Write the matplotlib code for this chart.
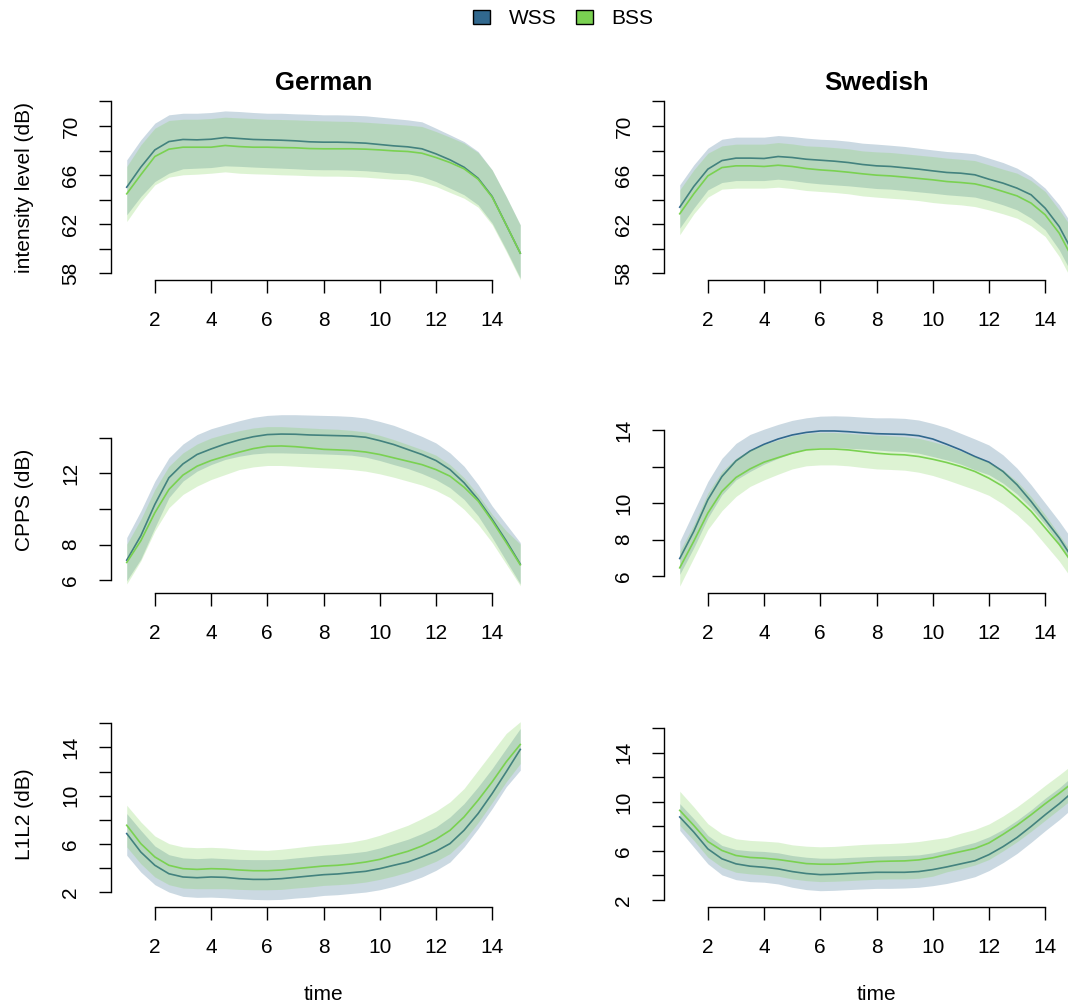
import numpy as np
import matplotlib
matplotlib.use("Agg")
import matplotlib.pyplot as plt
from matplotlib.patches import Patch

plt.rcParams['font.family'] = ['Liberation Sans', 'DejaVu Sans']

# ---------------- data ----------------
time = [1.0, 1.5, 2.0, 2.5, 3.0, 3.5, 4.0, 4.5, 5.0, 5.5, 6.0, 6.5, 7.0, 7.5, 8.0,
        8.5, 9.0, 9.5, 10.0, 10.5, 11.0, 11.5, 12.0, 12.5, 13.0, 13.5, 14.0, 14.5, 15.0]
languages = ["German", "Swedish"]
groups = ["WSS", "BSS"]
measures = ["intensity level (dB)", "CPPS (dB)", "L1L2 (dB)"]
x_ticks = [2, 4, 6, 8, 10, 12, 14]

# German - intensity
de_int_wss = [65.01, 66.64, 68.05, 68.73, 68.90, 68.87, 68.92, 69.06, 68.98, 68.90, 68.87, 68.84, 68.79, 68.71, 68.68,
              68.68, 68.65, 68.60, 68.49, 68.38, 68.30, 68.14, 67.73, 67.24, 66.64, 65.74, 64.25, 61.94, 59.63]
de_int_wss_hi = [67.24, 68.87, 70.23, 70.91, 71.04, 71.04, 71.10, 71.23, 71.18, 71.10, 71.04, 71.04, 70.99, 70.96, 70.91,
                 70.91, 70.88, 70.83, 70.72, 70.61, 70.50, 70.34, 69.82, 69.28, 68.73, 67.92, 66.42, 64.25, 61.94]
de_int_wss_lo = [62.76, 64.25, 65.47, 66.15, 66.51, 66.56, 66.61, 66.75, 66.71, 66.65, 66.60, 66.56, 66.51, 66.45, 66.43,
                 66.43, 66.40, 66.35, 66.26, 66.15, 66.10, 65.88, 65.47, 64.93, 64.39, 63.57, 62.08, 59.90, 57.59]
de_int_bss = [64.47, 66.02, 67.51, 68.11, 68.27, 68.27, 68.27, 68.41, 68.32, 68.27, 68.27, 68.24, 68.22, 68.16, 68.14,
              68.14, 68.14, 68.11, 68.05, 67.97, 67.92, 67.78, 67.43, 67.02, 66.51, 65.66, 64.20, 61.94, 59.63]
de_int_bss_hi = [66.70, 68.46, 69.82, 70.45, 70.55, 70.55, 70.61, 70.72, 70.66, 70.61, 70.55, 70.53, 70.50, 70.45, 70.42,
                 70.39, 70.37, 70.31, 70.23, 70.15, 70.07, 69.96, 69.55, 69.09, 68.60, 67.84, 66.42, 64.25, 61.94]
de_int_bss_lo = [62.21, 63.84, 65.20, 65.83, 66.02, 66.07, 66.15, 66.26, 66.15, 66.10, 66.07, 66.02, 65.99, 65.94, 65.91,
                 65.91, 65.88, 65.83, 65.74, 65.66, 65.61, 65.39, 65.07, 64.58, 64.11, 63.38, 61.94, 59.77, 57.46]

# Swedish - intensity
sv_int_wss = [63.38, 65.07, 66.48, 67.18, 67.38, 67.38, 67.35, 67.51, 67.43, 67.29, 67.21, 67.13, 67.02, 66.86, 66.75,
              66.70, 66.59, 66.48, 66.34, 66.21, 66.15, 66.02, 65.66, 65.34, 64.93, 64.39, 63.30, 61.80, 59.63]
sv_int_wss_hi = [65.20, 66.83, 68.19, 68.92, 69.09, 69.09, 69.09, 69.22, 69.14, 69.01, 68.92, 68.87, 68.76, 68.60, 68.52,
                 68.43, 68.33, 68.19, 68.05, 67.92, 67.84, 67.73, 67.38, 67.02, 66.56, 65.88, 64.93, 63.57, 61.80]
sv_int_wss_lo = [61.67, 63.30, 64.79, 65.39, 65.55, 65.55, 65.55, 65.66, 65.55, 65.39, 65.28, 65.20, 65.12, 65.01, 64.90,
                 64.85, 64.74, 64.63, 64.52, 64.39, 64.30, 64.20, 63.92, 63.57, 63.16, 62.48, 61.53, 59.90, 57.73]
sv_int_bss = [62.84, 64.47, 65.93, 66.61, 66.75, 66.75, 66.70, 66.80, 66.70, 66.53, 66.42, 66.34, 66.23, 66.10, 65.99,
              65.93, 65.83, 65.72, 65.61, 65.47, 65.39, 65.28, 65.01, 64.66, 64.30, 63.71, 62.76, 61.26, 59.09]
sv_int_bss_hi = [64.79, 66.42, 67.78, 68.38, 68.52, 68.52, 68.52, 68.65, 68.54, 68.38, 68.33, 68.24, 68.14, 67.97, 67.89,
                 67.84, 67.73, 67.62, 67.51, 67.38, 67.29, 67.18, 66.83, 66.48, 66.15, 65.55, 64.66, 63.16, 61.53]
sv_int_bss_lo = [61.13, 62.84, 64.20, 64.85, 64.93, 64.93, 64.93, 65.01, 64.90, 64.74, 64.66, 64.58, 64.47, 64.30, 64.20,
                 64.11, 64.03, 63.92, 63.76, 63.65, 63.57, 63.43, 63.16, 62.84, 62.48, 61.86, 60.99, 59.36, 57.18]

# German - CPPS
de_cpps_wss = [7.12, 8.49, 10.26, 11.76, 12.54, 13.07, 13.38, 13.66, 13.89, 14.07, 14.19, 14.22, 14.21, 14.17, 14.15,
               14.13, 14.11, 14.04, 13.85, 13.63, 13.35, 13.07, 12.73, 12.22, 11.48, 10.54, 9.42, 8.21, 6.90]
de_cpps_wss_hi = [8.39, 9.89, 11.57, 12.88, 13.66, 14.19, 14.52, 14.75, 14.97, 15.16, 15.27, 15.31, 15.31, 15.29, 15.27,
                  15.25, 15.21, 15.12, 14.93, 14.71, 14.41, 14.09, 13.72, 13.16, 12.41, 11.38, 10.17, 9.14, 8.11]
de_cpps_wss_lo = [5.96, 7.18, 8.95, 10.64, 11.57, 12.13, 12.50, 12.79, 12.97, 13.10, 13.16, 13.16, 13.14, 13.12, 13.10,
                  13.07, 13.03, 12.92, 12.73, 12.50, 12.28, 12.00, 11.66, 11.20, 10.54, 9.61, 8.39, 7.08, 5.78]
de_cpps_bss = [6.99, 8.21, 9.79, 11.10, 11.91, 12.41, 12.73, 12.97, 13.20, 13.40, 13.53, 13.55, 13.51, 13.44, 13.36,
               13.33, 13.29, 13.21, 13.07, 12.88, 12.69, 12.50, 12.22, 11.85, 11.23, 10.45, 9.33, 8.11, 6.86]
de_cpps_bss_hi = [8.02, 9.42, 11.10, 12.41, 13.16, 13.66, 14.00, 14.22, 14.41, 14.56, 14.64, 14.64, 14.60, 14.56, 14.52,
                  14.49, 14.43, 14.34, 14.15, 13.91, 13.63, 13.35, 13.03, 12.50, 11.76, 10.82, 9.70, 8.77, 8.02]
de_cpps_bss_lo = [5.78, 7.08, 8.77, 10.07, 10.82, 11.29, 11.66, 11.94, 12.22, 12.37, 12.45, 12.45, 12.41, 12.36, 12.32,
                  12.28, 12.22, 12.13, 11.98, 11.79, 11.57, 11.35, 11.05, 10.64, 9.98, 9.14, 8.11, 6.90, 5.68]

# Swedish - CPPS
sv_cpps_wss = [6.96, 8.45, 10.18, 11.45, 12.31, 12.85, 13.22, 13.51, 13.73, 13.87, 13.95, 13.95, 13.91, 13.85, 13.80,
               13.78, 13.76, 13.69, 13.51, 13.22, 12.91, 12.55, 12.24, 11.73, 11.00, 10.09, 9.09, 8.09, 6.91]
sv_cpps_wss_hi = [7.91, 9.55, 11.18, 12.45, 13.27, 13.76, 14.05, 14.31, 14.53, 14.67, 14.76, 14.78, 14.76, 14.71, 14.67,
                  14.67, 14.64, 14.55, 14.36, 14.13, 13.82, 13.51, 13.18, 12.64, 11.91, 11.00, 10.00, 9.00, 7.91]
sv_cpps_wss_lo = [6.09, 7.55, 9.18, 10.45, 11.27, 11.73, 12.13, 12.45, 12.73, 12.95, 13.04, 13.04, 13.00, 12.96, 12.91,
                  12.85, 12.82, 12.73, 12.55, 12.36, 12.13, 11.82, 11.55, 11.09, 10.49, 9.73, 8.82, 7.73, 6.45]
sv_cpps_bss = [6.45, 7.91, 9.45, 10.64, 11.40, 11.87, 12.24, 12.49, 12.73, 12.91, 12.96, 12.96, 12.91, 12.82, 12.73,
               12.67, 12.64, 12.55, 12.40, 12.22, 12.00, 11.73, 11.36, 10.91, 10.27, 9.55, 8.64, 7.73, 6.64]
sv_cpps_bss_hi = [7.36, 8.82, 10.55, 11.73, 12.45, 12.91, 13.22, 13.45, 13.69, 13.82, 13.87, 13.87, 13.82, 13.76, 13.73,
                  13.69, 13.64, 13.55, 13.36, 13.15, 12.85, 12.55, 12.24, 11.82, 11.18, 10.36, 9.36, 8.27, 7.18]
sv_cpps_bss_lo = [5.45, 7.00, 8.55, 9.58, 10.36, 10.91, 11.27, 11.58, 11.87, 12.04, 12.09, 12.09, 12.04, 11.95, 11.87,
                  11.84, 11.80, 11.69, 11.51, 11.27, 11.00, 10.73, 10.42, 9.95, 9.36, 8.64, 7.73, 6.82, 5.73]

# German - L1L2
de_l1l2_wss = [6.85, 5.32, 4.22, 3.52, 3.25, 3.19, 3.25, 3.22, 3.11, 3.05, 3.05, 3.11, 3.22, 3.33, 3.44,
               3.50, 3.61, 3.72, 3.94, 4.22, 4.49, 4.91, 5.38, 6.02, 7.12, 8.51, 10.17, 11.97, 13.83]
de_l1l2_wss_hi = [8.51, 7.12, 5.82, 5.10, 4.83, 4.77, 4.83, 4.77, 4.71, 4.69, 4.69, 4.71, 4.83, 4.94, 5.05,
                  5.13, 5.24, 5.38, 5.66, 6.02, 6.38, 6.85, 7.40, 8.23, 9.34, 10.73, 12.25, 13.91, 15.57]
de_l1l2_wss_lo = [5.05, 3.66, 2.61, 2.00, 1.64, 1.56, 1.58, 1.53, 1.45, 1.39, 1.36, 1.39, 1.50, 1.58, 1.72,
                  1.78, 1.89, 2.00, 2.19, 2.47, 2.83, 3.25, 3.80, 4.49, 5.74, 7.26, 8.93, 10.73, 12.11]
de_l1l2_bss = [7.54, 6.02, 4.91, 4.22, 3.94, 3.88, 3.94, 3.91, 3.83, 3.77, 3.77, 3.83, 3.94, 4.05, 4.16,
               4.22, 4.33, 4.49, 4.71, 5.05, 5.38, 5.82, 6.38, 7.12, 8.23, 9.62, 11.14, 12.80, 14.24]
de_l1l2_bss_hi = [9.20, 7.82, 6.65, 6.02, 5.74, 5.68, 5.71, 5.66, 5.55, 5.49, 5.46, 5.55, 5.68, 5.82, 5.93,
                  6.02, 6.16, 6.38, 6.71, 7.12, 7.54, 8.09, 8.70, 9.48, 10.59, 12.11, 13.63, 15.16, 16.13]
de_l1l2_bss_lo = [5.74, 4.35, 3.25, 2.61, 2.33, 2.28, 2.28, 2.28, 2.22, 2.19, 2.19, 2.22, 2.33, 2.42, 2.55,
                  2.61, 2.69, 2.83, 3.05, 3.33, 3.66, 4.08, 4.55, 5.19, 6.29, 7.76, 9.42, 11.14, 12.66]

# Swedish - L1L2
sv_l1l2_wss = [8.77, 7.54, 6.17, 5.36, 4.95, 4.76, 4.67, 4.54, 4.32, 4.16, 4.07, 4.10, 4.16, 4.21, 4.26,
               4.26, 4.26, 4.32, 4.48, 4.70, 4.95, 5.20, 5.70, 6.35, 7.10, 8.00, 8.95, 9.85, 10.85]
sv_l1l2_wss_hi = [9.86, 8.63, 7.27, 6.45, 6.12, 6.01, 5.96, 5.85, 5.63, 5.49, 5.41, 5.41, 5.47, 5.52, 5.57,
                  5.60, 5.63, 5.68, 5.85, 6.10, 6.40, 6.70, 7.15, 7.75, 8.50, 9.35, 10.30, 11.15, 12.15]
sv_l1l2_wss_lo = [7.68, 6.31, 4.95, 4.05, 3.66, 3.50, 3.45, 3.31, 3.04, 2.85, 2.76, 2.79, 2.85, 2.90, 2.95,
                  2.95, 2.98, 3.04, 3.17, 3.35, 3.60, 3.90, 4.40, 5.05, 5.80, 6.70, 7.65, 8.55, 9.55]
sv_l1l2_bss = [9.31, 8.08, 6.77, 6.04, 5.63, 5.47, 5.41, 5.30, 5.14, 4.97, 4.92, 4.92, 4.97, 5.06, 5.14,
               5.17, 5.19, 5.27, 5.44, 5.70, 5.95, 6.20, 6.65, 7.35, 8.10, 8.95, 9.85, 10.70, 11.60]
sv_l1l2_bss_hi = [10.87, 9.59, 8.22, 7.40, 6.99, 6.86, 6.80, 6.72, 6.50, 6.39, 6.34, 6.37, 6.45, 6.53, 6.58,
                  6.61, 6.67, 6.77, 6.94, 7.10, 7.45, 7.75, 8.20, 8.85, 9.60, 10.45, 11.35, 12.20, 13.10]
sv_l1l2_bss_lo = [8.08, 6.86, 5.49, 4.67, 4.26, 4.13, 4.05, 3.94, 3.72, 3.58, 3.50, 3.53, 3.58, 3.64, 3.69,
                  3.72, 3.72, 3.77, 3.94, 4.30, 4.55, 4.85, 5.30, 6.00, 6.75, 7.60, 8.50, 9.40, 10.30]

# y-axis ticks and labels (as drawn in the reference)
int_ticks = [58, 60, 62, 64, 66, 68, 70, 72]
int_labels = ["58", "", "62", "", "66", "", "70", ""]
cpps_ticks = [6, 8, 10, 12, 14]
de_cpps_labels = ["6", "8", "", "12", ""]
sv_cpps_labels = ["6", "8", "10", "", "14"]
l1l2_ticks = [2, 4, 6, 8, 10, 12, 14, 16]
l1l2_labels = ["2", "", "6", "", "10", "", "14", ""]

# ---------------- layout / style ----------------
W, H = 1068, 1007
WSS_COL = "#31688E"
BSS_COL = "#7AD151"
FS = 15

fig = plt.figure(figsize=(W / 100, H / 100), dpi=100)

col_left = [111, 664]
ax_w = 425
row_bottom = [280, 593, 907]
ax_h = 185.4

panels = [
    (0, 0, (de_int_wss, de_int_wss_lo, de_int_wss_hi, de_int_bss, de_int_bss_lo, de_int_bss_hi), (57.44, 72.56), int_ticks, int_labels),
    (0, 1, (sv_int_wss, sv_int_wss_lo, sv_int_wss_hi, sv_int_bss, sv_int_bss_lo, sv_int_bss_hi), (57.44, 72.56), int_ticks, int_labels),
    (1, 0, (de_cpps_wss, de_cpps_wss_lo, de_cpps_wss_hi, de_cpps_bss, de_cpps_bss_lo, de_cpps_bss_hi), (5.27, 15.71), cpps_ticks, de_cpps_labels),
    (1, 1, (sv_cpps_wss, sv_cpps_wss_lo, sv_cpps_wss_hi, sv_cpps_bss, sv_cpps_bss_lo, sv_cpps_bss_hi), (5.07, 15.23), cpps_ticks, sv_cpps_labels),
    (2, 0, (de_l1l2_wss, de_l1l2_wss_lo, de_l1l2_wss_hi, de_l1l2_bss, de_l1l2_bss_lo, de_l1l2_bss_hi), (0.76, 16.14), l1l2_ticks, l1l2_labels),
    (2, 1, (sv_l1l2_wss, sv_l1l2_wss_lo, sv_l1l2_wss_hi, sv_l1l2_bss, sv_l1l2_bss_lo, sv_l1l2_bss_hi), (1.43, 16.55), l1l2_ticks, l1l2_labels),
]

for row, col, series, ylim, yticks, ylabels in panels:
    left = col_left[col] / W
    bottom = (H - row_bottom[row]) / H
    ax = fig.add_axes([left, bottom, ax_w / W, ax_h / H])
    wss, wss_lo, wss_hi, bss, bss_lo, bss_hi = series

    ax.fill_between(time, wss_lo, wss_hi, color=WSS_COL, alpha=0.25, linewidth=0, zorder=1)
    ax.plot(time, wss, color=WSS_COL, linewidth=1.2, zorder=2)
    ax.fill_between(time, bss_lo, bss_hi, color=BSS_COL, alpha=0.25, linewidth=0, zorder=3)
    ax.plot(time, bss, color=BSS_COL, linewidth=1.2, zorder=4)

    ax.set_xlim(0.44, 15.56)
    ax.set_ylim(*ylim)
    ax.set_xticks(x_ticks)
    ax.set_xticklabels([str(t) for t in x_ticks])
    ax.set_yticks(yticks)
    ax.set_yticklabels(ylabels, rotation=90, va="center")

    for s in ["top", "right"]:
        ax.spines[s].set_visible(False)
    ax.spines["left"].set_bounds(yticks[0], yticks[-1])
    ax.spines["bottom"].set_bounds(x_ticks[0], x_ticks[-1])
    for s in ["left", "bottom"]:
        ax.spines[s].set_linewidth(1.0)
    ax.tick_params(axis="both", direction="out", length=9, width=1.0,
                   labelsize=FS, pad=13.0, color="black")

    if row == 0:
        ax.set_title(languages[col], fontsize=18.5, fontweight="bold", pad=2.5)
    if col == 0:
        ax.set_ylabel(measures[row], fontsize=FS, va="center")
        ax.yaxis.set_label_coords((25 - col_left[0]) / ax_w, 0.5)
    if row == 2:
        ax.set_xlabel("time", fontsize=FS, va="center")
        ax.xaxis.set_label_coords(0.5, -(995 - 907) / ax_h)

handles = [Patch(facecolor=WSS_COL, edgecolor="black", linewidth=1.0),
           Patch(facecolor=BSS_COL, edgecolor="black", linewidth=1.0)]
fig.legend(handles, groups, loc="center", bbox_to_anchor=(563.5 / W, 1 - 18.5 / H),
           ncol=2, frameon=False, fontsize=FS, handlelength=0.8, handleheight=0.65,
           handletextpad=0.9, columnspacing=0.95, borderpad=0)

fig.savefig("out.png", dpi=100)
